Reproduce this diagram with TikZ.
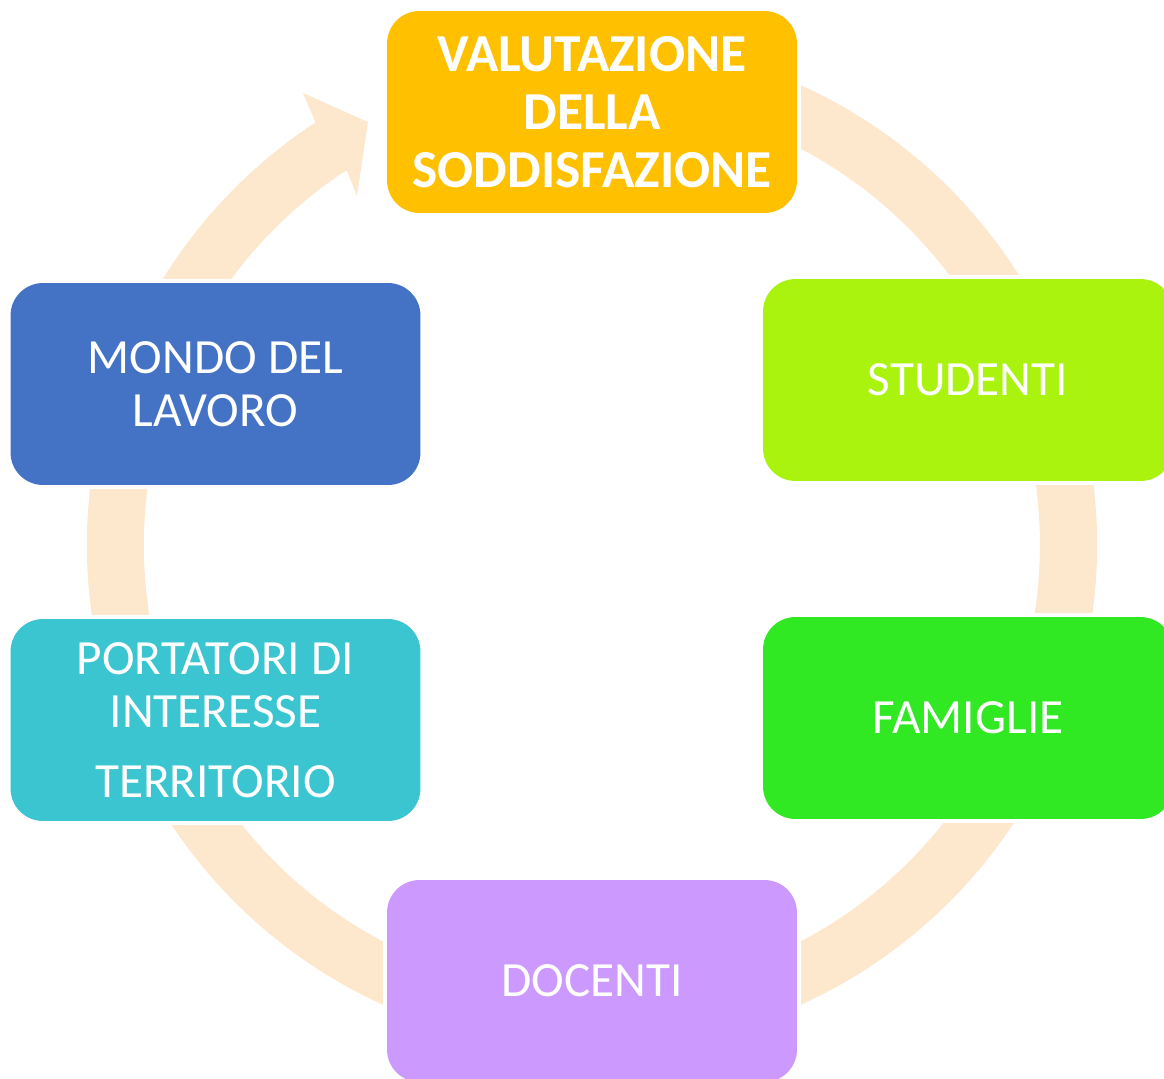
\documentclass[tikz,border=0pt]{standalone}
\usepackage{fontspec}
\setmainfont{Carlito}
\usetikzlibrary{calc}
\definecolor{cyc}{HTML}{FDE8CE}
\definecolor{cTop}{HTML}{FFC000}
\definecolor{cStu}{HTML}{A9F30F}
\definecolor{cFam}{HTML}{31E923}
\definecolor{cDoc}{HTML}{CC99FF}
\definecolor{cPor}{HTML}{3AC5D0}
\definecolor{cMon}{HTML}{4472C4}
\begin{document}
\begin{tikzpicture}[x=0.02cm,y=-0.02cm,
  box/.style={rectangle, rounded corners=0.65cm, minimum width=8.2cm, minimum height=4.04cm,
    inner sep=0pt, align=center, text=white,
    preaction={draw=white, line width=0.16cm},
    font=\fontsize{28}{30}\selectfont},
]
\useasboundingbox (0,0) rectangle (1164,1079);
\clip (0,0) rectangle (1164,1079);
\coordinate (c) at (592,545);
% cycle arrow
\fill[cyc] (c) ++(-70:505) arc[start angle=-70, end angle=236.8, radius=505]
  -- (303,93) -- (368,122) -- (357,196) -- (346.6,170.2)
  arc[start angle=236.8, end angle=-70, radius=448] -- cycle;
% boxes
\node[box, fill=cTop, font=\fontsize{30.4}{33}\selectfont\bfseries] (val) at (592,112) {VALUTAZIONE\\DELLA\\SODDISFAZIONE};
\node[box, fill=cStu] (stu) at (968,380) {STUDENTI};
\node[box, fill=cFam] (fam) at (968,718) {FAMIGLIE};
\node[box, fill=cDoc] (doc) at (592,981) {DOCENTI};
\node[box, fill=cPor] (por) at (215.5,720) {PORTATORI DI\\INTERESSE\\[0.35cm]TERRITORIO};
\node[box, fill=cMon] (mon) at (215.5,384) {MONDO DEL\\LAVORO};
\end{tikzpicture}
\end{document}
